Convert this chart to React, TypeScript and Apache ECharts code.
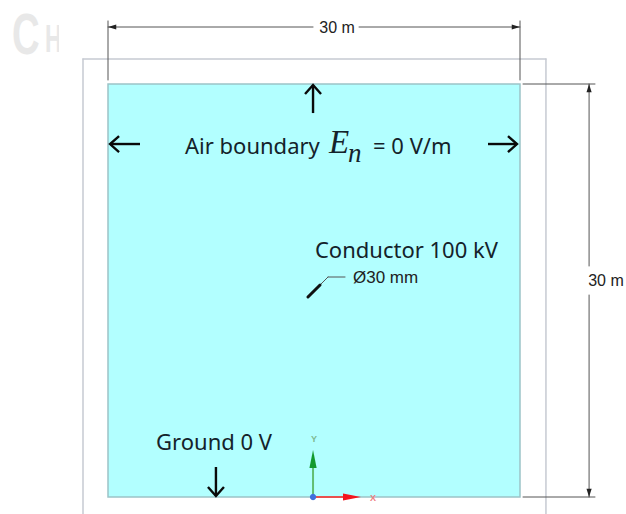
import React, { useEffect, useRef } from "react";
import * as echarts from "echarts";

// All geometry is in metres: the domain runs from 0 to 30 m on both axes.
const domainBox = [[0, 0, 30, 30]];
const outerBoxPath = [
  [-1.82, -1.23, -1.82, 31.81],
  [-1.82, 31.81, 31.89, 31.81],
  [31.89, 31.81, 31.89, -1.23],
];
const dimensionLines = [
  [0, 34.14, 14.93, 34.14],
  [18.28, 34.14, 30, 34.14],
  [0, 34.58, 0, 30.29],
  [30, 34.58, 30, 30.29],
  [30.22, 30, 35.46, 30],
  [30.22, 0, 35.46, 0],
  [35.03, 30, 35.03, 16.78],
  [35.03, 14.67, 35.03, 0],
];
const dimensionHeads = [
  [0.6, 34.14, 0, 34.14],
  [29.4, 34.14, 30, 34.14],
  [35.03, 29.4, 35.03, 30],
  [35.03, 0.6, 35.03, 0],
];
const boundaryArrows = [
  [14.93, 27.89, 14.93, 29.93],
  [2.33, 25.64, 0.15, 25.64],
  [27.67, 25.64, 29.78, 25.64],
  [7.86, 2.18, 7.86, 0.07],
];
const leaderThin = [
  [15.44, 15.4, 16.02, 15.98],
  [16.02, 15.98, 17.26, 15.98],
];
const leaderThick = [[14.56, 14.53, 15.44, 15.4]];
const triadOrigin = [[14.93, 0]];
const triadYShaft = [[14.93, 0, 14.93, 2.2]];
const triadXShaft = [[14.93, 0, 17.2, 0]];
const triadYHead = [[14.93, 2.11, 14.93, 3.41]];
const triadXHead = [[17.11, 0, 18.42, 0]];

const sansTexts = ["Air boundary", "= 0 V/m", "Conductor 100 kV", "Ground 0 V"];
const sansTextAnchors = [
  [5.61, 25.57],
  [19.3, 25.57],
  [15.07, 18.01],
  [3.5, 4.07],
];
const dimensionTexts = ["30 m", "30 m"];
const dimensionTextAnchors = [
  [16.68, 34.07],
  [36.26, 15.76],
];
const diameterText = ["Ø30 mm"];
const diameterTextAnchor = [[17.84, 15.98]];
const fieldSymbol = ["E"];
const fieldSymbolAnchor = [[16.09, 25.79]];
const fieldSubscript = ["n"];
const fieldSubscriptAnchor = [[17.48, 25.0]];
const triadXLabel = ["X"];
const triadXAnchor = [[19.3, -0.07]];
const triadYLabel = ["Y"];
const triadYAnchor = [[15.0, 4.21]];

const lineSeries = (data: number[][], stroke: string, lineWidth: number, z: number) => ({
  type: "custom",
  silent: true,
  z,
  data,
  clip: false,
  renderItem: (_: any, api: any) => {
    const a = api.coord([api.value(0), api.value(1)]);
    const b = api.coord([api.value(2), api.value(3)]);
    return {
      type: "line",
      shape: { x1: a[0], y1: a[1], x2: b[0], y2: b[1] },
      style: { stroke, lineWidth, fill: "none", lineCap: "round" },
    };
  },
});

const headSeries = (data: number[][], fill: string, halfWidth: number, z: number) => ({
  type: "custom",
  silent: true,
  z,
  data,
  clip: false,
  renderItem: (_: any, api: any) => {
    const base = api.coord([api.value(0), api.value(1)]);
    const tip = api.coord([api.value(2), api.value(3)]);
    const dx = tip[0] - base[0];
    const dy = tip[1] - base[1];
    const len = Math.hypot(dx, dy) || 1;
    const nx = (-dy / len) * halfWidth;
    const ny = (dx / len) * halfWidth;
    return {
      type: "polygon",
      shape: { points: [tip, [base[0] + nx, base[1] + ny], [base[0] - nx, base[1] - ny]] },
      style: { fill },
    };
  },
});

const openArrowSeries = (data: number[][], stroke: string, z: number) => ({
  type: "custom",
  silent: true,
  z,
  data,
  clip: false,
  renderItem: (_: any, api: any) => {
    const tail = api.coord([api.value(0), api.value(1)]);
    const tip = api.coord([api.value(2), api.value(3)]);
    const dx = tip[0] - tail[0];
    const dy = tip[1] - tail[1];
    const len = Math.hypot(dx, dy) || 1;
    const ux = dx / len;
    const uy = dy / len;
    const back = 9;
    const side = 8;
    const style = { stroke, lineWidth: 2.4, fill: "none" };
    return {
      type: "group",
      children: [
        { type: "line", shape: { x1: tail[0], y1: tail[1], x2: tip[0], y2: tip[1] }, style },
        {
          type: "polyline",
          shape: {
            points: [
              [tip[0] - ux * back - uy * side, tip[1] - uy * back + ux * side],
              tip,
              [tip[0] - ux * back + uy * side, tip[1] - uy * back - ux * side],
            ],
          },
          style,
        },
      ],
    };
  },
});

const textSeries = (
  texts: string[],
  anchors: number[][],
  font: string,
  fill: string,
  z: number,
  align = "left",
) => ({
  type: "custom",
  silent: true,
  z,
  data: anchors,
  clip: false,
  renderItem: (params: any, api: any) => {
    const p = api.coord([api.value(0), api.value(1)]);
    return {
      type: "text",
      x: p[0],
      y: p[1],
      style: { text: texts[params.dataIndex], font, fill, align, verticalAlign: "middle" },
    };
  },
});

const domainSeries = {
  type: "custom",
  silent: true,
  z: 1,
  data: domainBox,
  clip: false,
  renderItem: (_: any, api: any) => {
    const a = api.coord([api.value(0), api.value(1)]);
    const b = api.coord([api.value(2), api.value(3)]);
    return {
      type: "rect",
      shape: { x: a[0], y: b[1], width: b[0] - a[0], height: a[1] - b[1] },
      style: { fill: "#b2ffff", stroke: "#9cc4c8", lineWidth: 1.5 },
    };
  },
};

const originSeries = {
  type: "custom",
  silent: true,
  z: 9,
  data: triadOrigin,
  clip: false,
  renderItem: (_: any, api: any) => {
    const p = api.coord([api.value(0), api.value(1)]);
    return { type: "circle", shape: { cx: p[0], cy: p[1], r: 3.2 }, style: { fill: "#3f6fdc" } };
  },
};

const SANS = '"Noto Sans", sans-serif';
const ARIAL = '"Liberation Sans", Arial, sans-serif';

export default function App() {
  const ref = useRef<HTMLDivElement>(null);
  useEffect(() => {
    document.body.style.margin = "0";
    const chart = echarts.init(ref.current!, undefined, { renderer: "svg" });
    chart.setOption({
      animation: false,
      backgroundColor: "#ffffff",
      tooltip: { show: false },
      grid: { left: 108, top: 84, width: 412, height: 413 },
      xAxis: { type: "value", min: 0, max: 30, show: false },
      yAxis: { type: "value", min: 0, max: 30, show: false },
      graphic: [
        {
          type: "text",
          x: 12,
          y: 34,
          z: 1,
          scaleX: 0.66,
          style: { text: "C", font: 'bold 58px "Liberation Sans"', fill: "#e8e8e8", verticalAlign: "middle" },
        },
        {
          type: "text",
          x: 45,
          y: 39,
          z: 1,
          scaleX: 0.6,
          style: { text: "H", font: 'bold 39px "Liberation Sans"', fill: "#e8e8e8", verticalAlign: "middle" },
        },
        {
          type: "rect",
          x: 59,
          y: 10,
          z: 2,
          shape: { width: 20, height: 48 },
          style: { fill: "#ffffff" },
        },
      ],
      series: [
        domainSeries,
        lineSeries(outerBoxPath, "#c6cad2", 1.5, 2),
        lineSeries(dimensionLines, "#555555", 1, 3),
        headSeries(dimensionHeads, "#222222", 2.6, 4),
        openArrowSeries(boundaryArrows, "#0a0a0a", 5),
        lineSeries(leaderThin, "#555555", 1, 5),
        lineSeries(leaderThick, "#111111", 3, 5),
        lineSeries(triadYShaft, "#62bd72", 2, 6),
        lineSeries(triadXShaft, "#e8504e", 2, 6),
        headSeries(triadYHead, "#129a2e", 3.6, 7),
        headSeries(triadXHead, "#f4141c", 3.4, 7),
        originSeries,
        textSeries(sansTexts, sansTextAnchors, `22px ${SANS}`, "#14222a", 10),
        textSeries(dimensionTexts, dimensionTextAnchors, `16px ${ARIAL}`, "#222222", 10, "center"),
        textSeries(diameterText, diameterTextAnchor, `17px ${ARIAL}`, "#222222", 10),
        textSeries(fieldSymbol, fieldSymbolAnchor, 'italic 33px "Liberation Serif", serif', "#14222a", 10),
        textSeries(fieldSubscript, fieldSubscriptAnchor, 'italic 27px "Liberation Serif", serif', "#14222a", 10),
        textSeries(triadXLabel, triadXAnchor, `bold 9px ${ARIAL}`, "#ee8080", 10, "center"),
        textSeries(triadYLabel, triadYAnchor, `bold 9px ${ARIAL}`, "#7fb98f", 10, "center"),
      ],
    });
    return () => chart.dispose();
  }, []);
  return <div ref={ref} style={{ width: 626, height: 514 }} />;
}
